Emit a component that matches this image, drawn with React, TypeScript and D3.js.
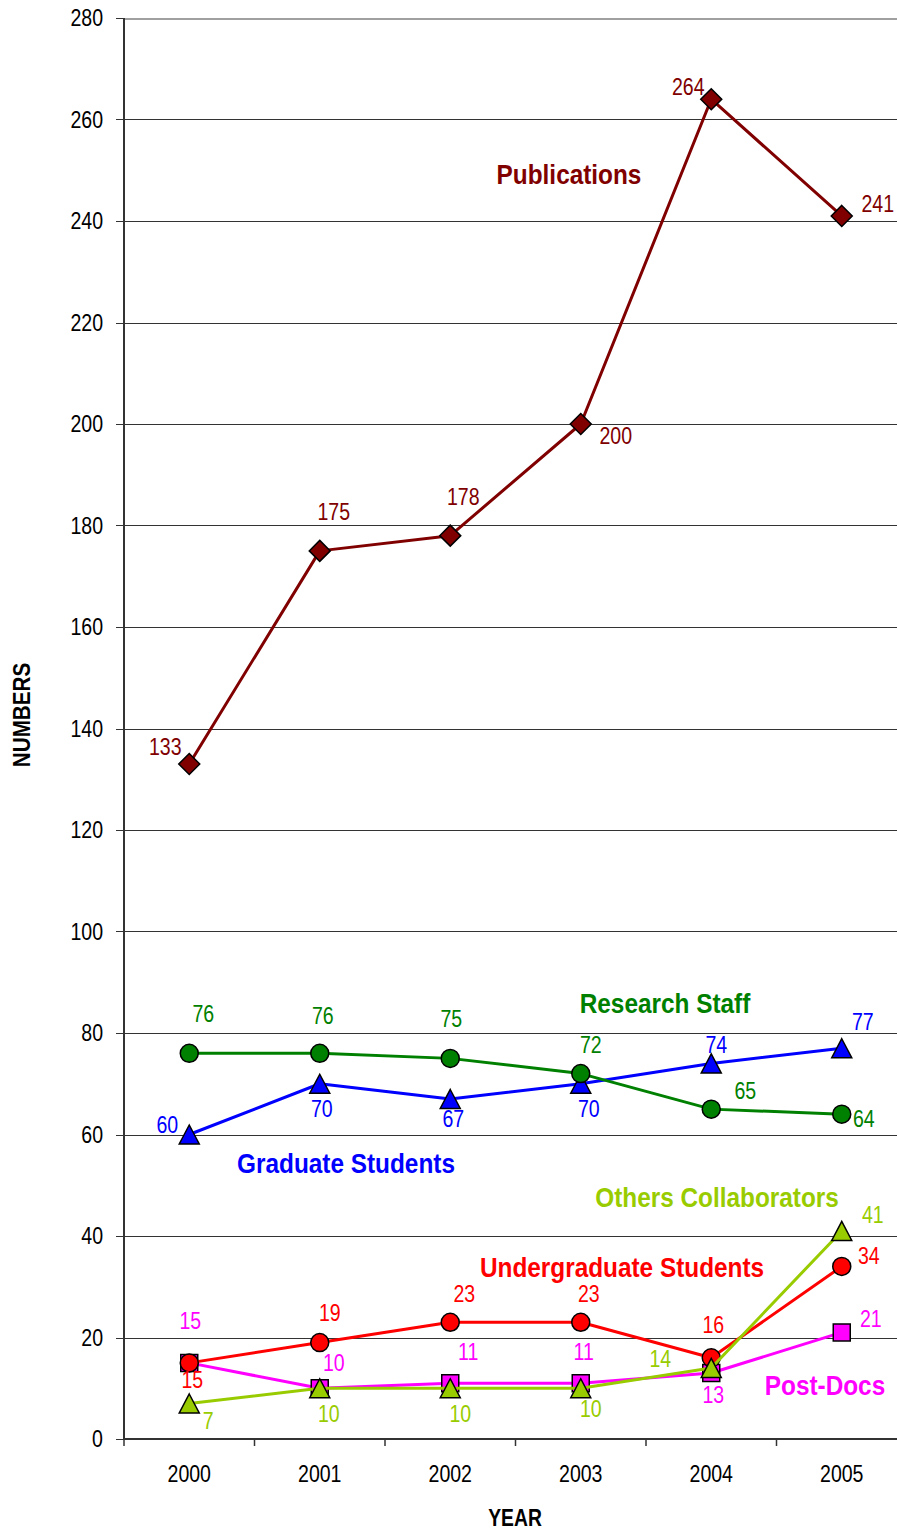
import * as d3 from "d3";
import React from "react";

const years = ["2000", "2001", "2002", "2003", "2004", "2005"];
const yTicks = [0, 20, 40, 60, 80, 100, 120, 140, 160, 180, 200, 220, 240, 260, 280];

const publications = [133, 175, 178, 200, 264, 241];
const graduateStudents = [60, 70, 67, 70, 74, 77];
const researchStaff = [76, 76, 75, 72, 65, 64];
const postDocs = [15, 10, 11, 11, 13, 21];
const undergraduates = [15, 19, 23, 23, 16, 34];
const collaborators = [7, 10, 10, 10, 14, 41];

type Marker = "diamond" | "circle" | "triangle" | "square";

interface Series {
  name: string;
  values: number[];
  color: string;
  marker: Marker;
  // value label offsets from the point: [dx, dy of baseline]
  offsets: [number, number][];
  // series name label: center x, baseline y
  title: [number, number];
}

const series: Series[] = [
  {
    name: "Publications",
    values: publications,
    color: "#800000",
    marker: "diamond",
    offsets: [[-24, -9], [14, -31], [13, -31], [35, 20], [-23, -4], [36, -4]],
    title: [569, 184],
  },
  {
    name: "Graduate Students",
    values: graduateStudents,
    color: "#0000ff",
    marker: "triangle",
    offsets: [[-22, -2], [2, 33], [3, 28], [8, 33], [5, -10], [21, -18]],
    title: [346, 1173],
  },
  {
    name: "Research Staff",
    values: researchStaff,
    color: "#008000",
    marker: "circle",
    offsets: [[14, -31], [3, -29], [1, -31], [10, -21], [34, -10], [22, 13]],
    title: [665, 1013],
  },
  {
    name: "Post-Docs",
    values: postDocs,
    color: "#ff00ff",
    marker: "square",
    offsets: [[1, -34], [14, -17], [18, -23], [3, -23], [2, 30], [29, -5]],
    title: [825, 1395],
  },
  {
    name: "Undergraduate Students",
    values: undergraduates,
    color: "#ff0000",
    marker: "circle",
    offsets: [[3, 25], [10, -22], [14, -20], [8, -20], [2, -25], [27, -2]],
    title: [622, 1277],
  },
  {
    name: "Others Collaborators",
    values: collaborators,
    color: "#99cc00",
    marker: "triangle",
    offsets: [[19, 26], [9, 34], [10, 34], [10, 29], [-51, -1], [31, -8]],
    title: [717, 1207],
  },
];

const W = 897;
const H = 1530;
const left = 124;
const top = 18;
const bottom = 1439;
const plotRight = 907; // plot area runs a little past the image edge

const FONT = "'Liberation Sans', Arial, sans-serif";

const Txt: React.FC<{
  x: number;
  y: number;
  size: number;
  fill?: string;
  bold?: boolean;
  anchor?: "start" | "middle" | "end";
  sx?: number;
  rotate?: number;
  children: React.ReactNode;
}> = ({ x, y, size, fill = "#000", bold, anchor = "middle", sx = 0.85, rotate = 0, children }) => (
  <text
    transform={`translate(${x},${y}) rotate(${rotate}) scale(${sx},1)`}
    fontSize={size}
    fontFamily={FONT}
    fontWeight={bold ? "bold" : "normal"}
    fill={fill}
    textAnchor={anchor}
  >
    {children}
  </text>
);

const markerPath = (m: Marker): string => {
  switch (m) {
    case "diamond":
      return "M0,-10.5L10.5,0L0,10.5L-10.5,0Z";
    case "circle":
      return d3.symbol(d3.symbolCircle, Math.PI * 81)() as string;
    case "triangle":
      return "M0,-9.5L10,9.5L-10,9.5Z";
    case "square":
      return "M-8.5,-8.5H8.5V8.5H-8.5Z";
  }
};

export default function App() {
  const x = d3.scaleBand<string>().domain(years).range([left, plotRight]);
  const y = d3.scaleLinear().domain([0, 280]).range([bottom, top]);
  const cx = (yr: string) => (x(yr) as number) + x.bandwidth() / 2;

  const line = d3
    .line<number>()
    .x((_, i) => cx(years[i]))
    .y((d) => y(d));

  const boundaries = [...years.map((yr) => x(yr) as number)];

  return (
    <svg
      width={W}
      height={H}
      style={{ position: "absolute", left: 0, top: 0, display: "block", background: "#fff" }}
    >
      {/* gridlines */}
      {yTicks
        .filter((t) => t > 0)
        .map((t) => (
          <line
            key={t}
            x1={left}
            x2={plotRight}
            y1={Math.round(y(t)) + 0.5}
            y2={Math.round(y(t)) + 0.5}
            stroke={t === 280 ? "#a0a0a0" : "#333"}
            strokeWidth={t === 280 ? 2 : 1}
            shapeRendering="crispEdges"
          />
        ))}

      {/* y axis */}
      <line x1={left} x2={left} y1={top} y2={bottom} stroke="#333" strokeWidth={2} />
      {yTicks.map((t) => (
        <g key={t}>
          <line
            x1={116}
            x2={left}
            y1={Math.round(y(t)) + 0.5}
            y2={Math.round(y(t)) + 0.5}
            stroke="#333"
            strokeWidth={1}
            shapeRendering="crispEdges"
          />
          <Txt x={103} y={y(t) + 8} size={23} anchor="end">
            {t}
          </Txt>
        </g>
      ))}

      {/* x axis */}
      <line x1={left} x2={plotRight} y1={bottom} y2={bottom} stroke="#333" strokeWidth={2} />
      {boundaries.map((b) => (
        <line key={b} x1={b} x2={b} y1={bottom} y2={bottom + 7} stroke="#333" strokeWidth={1.5} />
      ))}
      {years.map((yr) => (
        <Txt key={yr} x={cx(yr)} y={1482} size={23}>
          {yr}
        </Txt>
      ))}

      {/* axis titles */}
      <Txt x={515} y={1526} size={23} bold sx={0.84}>
        YEAR
      </Txt>
      <Txt x={30} y={715} size={24} bold sx={0.86} rotate={-90}>
        NUMBERS
      </Txt>

      {/* series */}
      {series.map((s) => (
        <g key={s.name}>
          <path d={line(s.values) as string} fill="none" stroke={s.color} strokeWidth={3} strokeLinejoin="round" />
          {s.values.map((v, i) => (
            <path
              key={i}
              d={markerPath(s.marker)}
              transform={`translate(${cx(years[i])},${y(v)})`}
              fill={s.color}
              stroke="#000"
              strokeWidth={1.5}
            />
          ))}
        </g>
      ))}

      {/* value labels */}
      {series.map((s) =>
        s.values.map((v, i) => (
          <Txt
            key={s.name + i}
            x={cx(years[i]) + s.offsets[i][0]}
            y={y(v) + s.offsets[i][1]}
            size={23}
            fill={s.color}
          >
            {v}
          </Txt>
        ))
      )}

      {/* series names */}
      {series.map((s) => (
        <Txt key={s.name + "-title"} x={s.title[0]} y={s.title[1]} size={28} bold sx={0.87} fill={s.color}>
          {s.name}
        </Txt>
      ))}
    </svg>
  );
}
